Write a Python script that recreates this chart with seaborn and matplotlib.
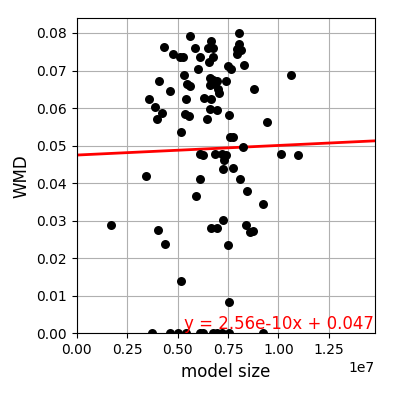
import matplotlib
matplotlib.use("Agg")
import matplotlib.pyplot as plt
import seaborn as sns
import pandas as pd

# model size (in units of 1e7) and WMD
model_size_e7 = [
    0.563, 0.806, 0.434, 0.588, 0.665, 0.652, 0.674, 0.804, 0.794, 0.814,
    0.797, 0.479, 0.513, 0.527, 0.612, 0.674, 0.656, 0.827, 0.750, 0.765,
    0.601, 0.533, 0.408, 0.548, 0.560, 0.661, 0.677, 0.697, 0.659, 0.687,
    0.742, 1.063, 0.464, 0.702, 0.707, 0.360, 0.542, 0.633, 0.667, 0.880,
    0.388, 0.424, 0.399, 0.538, 0.558, 0.661, 0.697, 0.647, 0.756, 0.943,
    0.518, 0.760, 0.776, 0.826, 0.611, 0.627, 0.687, 0.718, 0.740, 0.731,
    1.014, 1.098, 0.726, 0.776, 0.343, 0.612, 0.809, 0.844, 0.592, 0.925,
    0.726, 0.170, 0.404, 0.666, 0.694, 0.839, 0.872, 0.859, 0.438, 0.750,
    0.518, 0.755,
    0.375, 0.465, 0.502, 0.542, 0.611, 0.628, 0.678, 0.695, 0.722, 0.755, 0.921,
]
wmd = [
    0.0791, 0.0801, 0.0762, 0.0759, 0.0778, 0.0761, 0.0759, 0.0771, 0.0758, 0.0755,
    0.0744, 0.0743, 0.0736, 0.0737, 0.0735, 0.0736, 0.0723, 0.0715, 0.0711, 0.0705,
    0.0704, 0.0687, 0.0672, 0.0664, 0.0660, 0.0681, 0.0674, 0.0671, 0.0661, 0.0664,
    0.0672, 0.0687, 0.0645, 0.0652, 0.0639, 0.0625, 0.0625, 0.0627, 0.0625, 0.0650,
    0.0602, 0.0587, 0.0571, 0.0585, 0.0579, 0.0598, 0.0594, 0.0572, 0.0581, 0.0563,
    0.0536, 0.0522, 0.0522, 0.0496, 0.0479, 0.0474, 0.0477, 0.0478, 0.0475, 0.0463,
    0.0477, 0.0474, 0.0439, 0.0440, 0.0420, 0.0411, 0.0411, 0.0379, 0.0366, 0.0344,
    0.0301, 0.0289, 0.0275, 0.0280, 0.0280, 0.0288, 0.0274, 0.0270, 0.0238, 0.0235,
    0.0139, 0.0083,
    0.0, 0.0, 0.0, 0.0, 0.0, 0.0, 0.0, 0.0, 0.0, 0.0, 0.0,
]

# fitted line shown in the chart
slope = 2.56e-10
intercept = 0.0475
fit_label = "y = 2.56e-10x + 0.047"

df = pd.DataFrame({"model size": [v * 1e7 for v in model_size_e7], "WMD": wmd})

fig = plt.figure(figsize=(3.93, 3.93), dpi=100)
ax = fig.add_axes([0.195, 0.1514, 0.759, 0.802])

ax.axline((0, intercept), slope=slope, color="red", linewidth=2, zorder=2)
sns.scatterplot(data=df, x="model size", y="WMD", color="black", s=42,
                linewidth=0, ax=ax, zorder=3)

ax.set_xlim(0, 1.478e7)
ax.set_ylim(0, 0.0839)
ax.grid(True)
ax.set_xlabel("model size", fontsize=12)
ax.set_ylabel("WMD", fontsize=12)
ax.text(0.53e7, 0.0, fit_label, color="red", fontsize=12, va="bottom", zorder=4)

fig.savefig("out.png", dpi=100)
